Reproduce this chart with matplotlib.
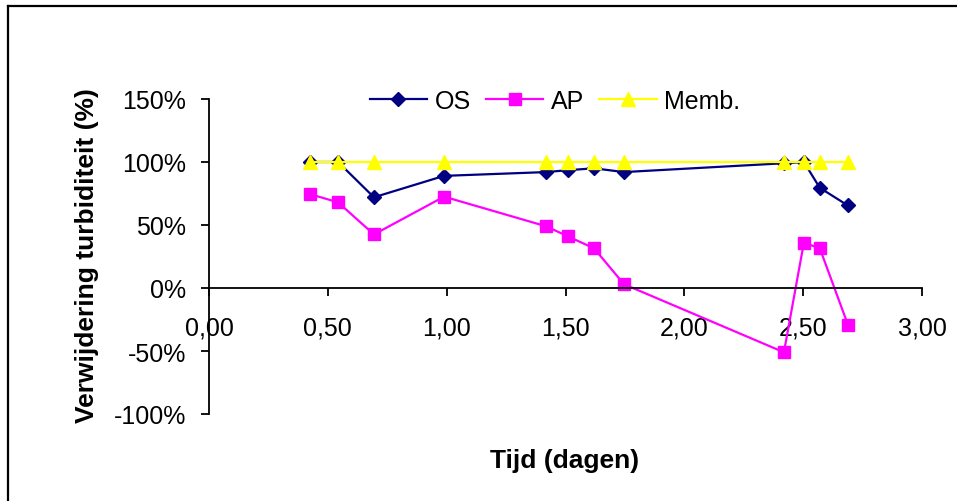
import matplotlib
matplotlib.use("Agg")
import matplotlib.pyplot as plt
from matplotlib.lines import Line2D
from matplotlib.ticker import FuncFormatter, FixedLocator

plt.rcParams['font.family'] = ['Liberation Sans', 'DejaVu Sans']

# Time (days) of each sample
tijd = [0.425, 0.543, 0.694, 0.989, 1.418, 1.510, 1.620, 1.746, 2.419, 2.503, 2.570, 2.688]

# Turbidity removal per treatment (%)
os_vals = [100, 100, 72, 89, 92, 93.5, 95, 92, 99, 100, 79.5, 65.5]
ap_vals = [74.5, 68, 42.5, 72.5, 49, 41, 31.5, 3, -51, 36, 31.5, -29]
memb_vals = [100, 100, 100, 100, 100, 100, 100, 100, 100, 100, 100, 100]

series_names = ["OS", "AP", "Memb."]

x_ticks = [0, 0.5, 1.0, 1.5, 2.0, 2.5, 3.0]
y_ticks = [-100, -50, 0, 50, 100, 150]

fig = plt.figure(figsize=(9.57, 5.02), dpi=100)
ax = fig.add_axes([209 / 957, 1 - 415 / 502, 713 / 957, 315 / 502])

ax.plot(tijd, os_vals, color="#000080", lw=1.6, marker="D", ms=7,
        mec="#000080", mfc="#000080", label=series_names[0])
ax.plot(tijd, ap_vals, color="#FF00FF", lw=1.6, marker="s", ms=8.5,
        mec="#FF00FF", mfc="#FF00FF", label=series_names[1])
ax.plot(tijd, memb_vals, color="#FFFF00", lw=1.6, marker="^", ms=9.5,
        mec="#FFFF00", mfc="#FFFF00", label=series_names[2])

ax.set_xlim(0, 3)
ax.set_ylim(-100, 150)

ax.spines["top"].set_visible(False)
ax.spines["right"].set_visible(False)
ax.spines["bottom"].set_position(("data", 0))
for s in ("left", "bottom"):
    ax.spines[s].set_linewidth(1.3)

ax.xaxis.set_major_locator(FixedLocator(x_ticks))
ax.yaxis.set_major_locator(FixedLocator(y_ticks))
ax.xaxis.set_major_formatter(FuncFormatter(lambda v, p: f"{v:.2f}".replace(".", ",")))
ax.yaxis.set_major_formatter(FuncFormatter(lambda v, p: f"{v:.0f}%"))

ax.tick_params(axis="x", direction="out", length=5.5, width=1.3, pad=14, labelsize=18)
ax.tick_params(axis="y", direction="out", length=5.8, width=1.3, pad=10.5, labelsize=18)

ax.set_xlabel("Tijd (dagen)", fontsize=19, fontweight="bold")
ax.set_ylabel("Verwijdering turbiditeit (%)", fontsize=19, fontweight="bold")
ax.xaxis.set_label_coords(0.499, -0.108)
ax.xaxis.label.set_va("top")
ax.yaxis.set_label_coords(-0.171, 0.505)
ax.yaxis.label.set_va("center")

ax.legend(loc="center", bbox_to_anchor=(555 / 957, 1 - 102 / 502),
          bbox_transform=fig.transFigure, ncol=3, frameon=False,
          fontsize=18, handlelength=2.3, handletextpad=0.3,
          columnspacing=0.6, borderpad=0)

# Chart area border (top and left edges)
fig.add_artist(Line2D([8 / 957, 8 / 957], [0, 1 - 7 / 502], color="black",
                      lw=1.6, transform=fig.transFigure))
fig.add_artist(Line2D([8 / 957, 1], [1 - 7 / 502, 1 - 7 / 502], color="black",
                      lw=1.6, transform=fig.transFigure))

fig.savefig("out.png", dpi=100)
